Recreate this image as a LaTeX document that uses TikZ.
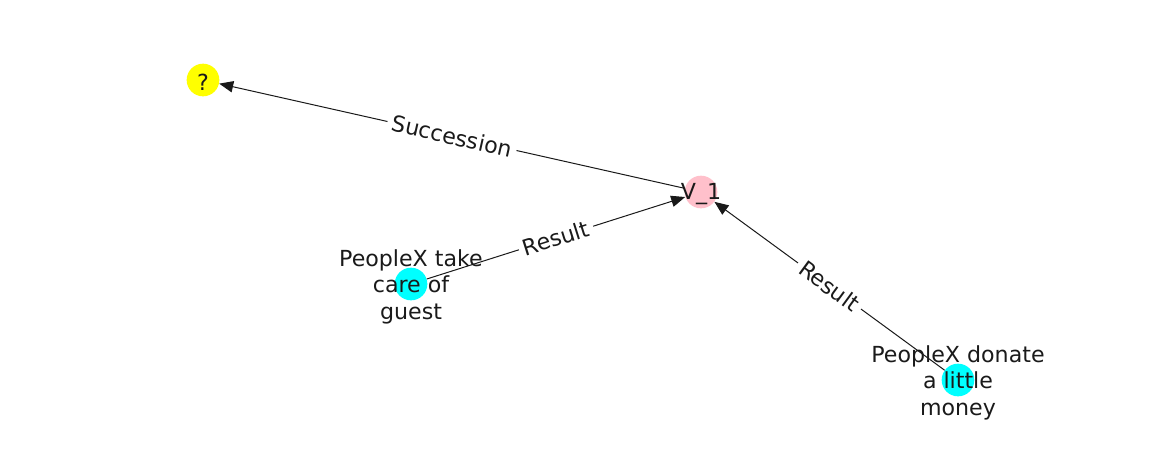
\documentclass[tikz,border=0pt]{standalone}
\usepackage{fontspec}
\setmainfont{DejaVu Sans}
\usetikzlibrary{arrows.meta}
\definecolor{nyellow}{RGB}{255,255,0}
\definecolor{npink}{RGB}{255,192,203}
\definecolor{ncyan}{RGB}{0,255,255}
\definecolor{ntext}{RGB}{26,26,26}
\begin{document}
\begin{tikzpicture}[x=0.75pt,y=-0.75pt,
  dot/.style={circle,minimum size=24.5pt,inner sep=0pt,draw=none},
  lbl/.style={font=\fontsize{16.6}{20}\selectfont,text=ntext,align=center,inner sep=0pt},
  edge/.style={draw=black!90,line width=0.75pt,-{Triangle[length=10.5pt,width=8.5pt]}},
  elbl/.style={font=\fontsize{16.6}{20}\selectfont,text=ntext,fill=white,inner sep=3.5pt,sloped,midway}]
\useasboundingbox (0,0) rectangle (1162,462);
\node[dot,fill=nyellow] (q) at (203,80) {};
\node[dot,fill=npink] (v1) at (701,192) {};
\node[dot,fill=ncyan] (a) at (411,284) {};
\node[dot,fill=ncyan] (b) at (958,380) {};
\draw[edge] (v1) -- (q) node[elbl] {Succession};
\draw[edge] (a) -- (v1) node[elbl] {Result};
\draw[edge] (b) -- (v1) node[elbl] {Result};
\node[lbl] (tq) at ([yshift=-1.5pt]q) {?};
\node[lbl] (tv1) at ([yshift=-1.5pt]v1) {V\_1};
\node[lbl] (ta) at ([yshift=-2pt]a) {PeopleX take\\care of\\guest};
\node[lbl] (tb) at ([yshift=-2pt]b) {PeopleX donate\\a little\\money};
\end{tikzpicture}
\end{document}
